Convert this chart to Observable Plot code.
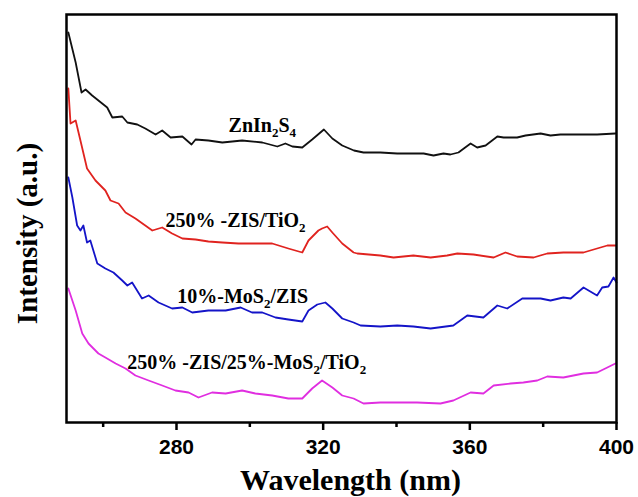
<!DOCTYPE html>
<html>
<head>
<meta charset="utf-8">
<script src="https://cdn.jsdelivr.net/npm/d3@7"></script>
<script src="https://cdn.jsdelivr.net/npm/@observablehq/plot@0.6"></script>
<style>
  html, body { margin: 0; padding: 0; background: #fff; }
  #chart svg { display: block; }
</style>
</head>
<body>
<div id="chart"></div>
<script>
// ---- data ----
const seriesNames = ["ZnIn2S4", "250%-ZIS/TiO2", "10%-MoS2/ZIS", "250%-ZIS/25%-MoS2/TiO2"];
const seriesColors = ["#111111", "#e0231f", "#1414c8", "#e02ee0"];

const znisWl = [250.5,252.5,254.1,255.2,257.0,261.1,262.5,265.2,266.6,269.3,271.5,274.3,276.1,278.4,281.6,284.1,285.2,288.7,292.5,297.9,303.4,307.5,309.7,311.6,314.3,317.0,320.2,322.5,325.2,328.4,331.0,335.6,340.2,344.6,347.4,350.1,352.8,354.7,356.9,360.2,362.0,364.3,367.5,369.2,372.9,375.2,379.3,382.0,384.7,389.3,394.7,399.7];
const znisI  = [390,360,330,333,327,315,305,306,300,298,294,288,292,285,286,278,283,282,280,282,280,276,279,276,275,283,293,284,277,272,270,270,269,269,269,267,269,268,270,279,275,277,286,285,285,287,289,287,288,288,288,289];

const zisTiWl = [250.5,251.1,252.5,253.8,255.6,257.9,260.6,262.0,264.2,266.1,268.8,273.4,276.1,278.8,281.6,285.2,288.7,292.5,296.9,301.5,306.1,310.5,314.3,316.0,318.7,319.7,321.1,322.5,325.2,328.3,329.3,335.6,339.2,344.6,349.3,353.8,356.6,361.0,366.5,369.7,372.9,377.4,381.1,385.5,391.0,394.7,397.5,399.7];
const zisTiI  = [334,299,302,282,254,242,232,222,219,210,204,192,195,189,184,183,181,180,179,179,179,174,170,182,192,194,196,190,179,170,169,167,165,167,165,167,169,168,165,170,166,165,169,170,170,174,177,177];

const mosZisWl = [250.5,251.6,252.9,253.8,254.6,255.6,256.5,258.4,260.6,262.8,265.2,266.6,267.9,270.6,272.4,275.1,278.8,281.6,284.3,288.7,293.4,297.5,300.6,303.4,307.0,310.5,314.3,316.0,318.4,320.6,322.5,325.2,328.3,330.2,335.6,340.2,344.6,349.3,355.5,359.3,363.7,367.5,370.2,374.3,379.3,382.0,385.5,387.5,391.0,394.7,396.1,397.8,399.2,400];
const mosZisI  = [245,225,197,192,197,180,182,159,154,150,142,137,140,124,127,120,114,115,110,112,112,115,110,110,105,103,101,112,118,120,114,104,100,97,96,97,96,94,97,107,105,117,114,124,124,122,125,124,135,127,135,136,145,140];

const ternWl = [250.5,252.5,254.3,256.0,258.7,260.6,263.4,266.1,268.8,272.4,276.1,279.7,283.3,286.0,289.7,293.4,297.9,301.5,306.1,310.5,314.3,317.0,319.7,322.5,325.2,328.3,331.0,335.6,340.2,345.6,352.0,355.5,360.2,363.7,366.5,371.1,374.6,378.4,381.1,385.5,391.0,394.7,397.5,399.7];
const ternI  = [134,112,89,79,69,65,59,54,47,42,37,32,30,25,30,29,32,29,27,24,24,34,42,35,27,24,19,20,20,20,19,22,30,29,37,39,40,42,46,45,49,50,55,59];

const majorTicks = [280, 320, 360, 400];
const minorTicks = [260, 300, 340, 380];

const labelTexts = ["ZnIn_2S_4", "250% -ZIS/TiO_2", "10%-MoS_2/ZIS", "250% -ZIS/25%-MoS_2/TiO_2"];
const labelWl = [294.2, 277.0, 280.2, 266.6];
const labelI  = [297, 202, 125.5, 59.5];

const xTitle = "Wavelength (nm)";
const yTitle = "Intensity (a.u.)";

// ---- build rows ----
const seriesData = [[znisWl, znisI], [zisTiWl, zisTiI], [mosZisWl, mosZisI], [ternWl, ternI]];
const rows = [];
seriesData.forEach(([w, v], k) => w.forEach((x, i) => rows.push({series: seriesNames[k], wl: x, v: v[i]})));
const labels = labelTexts.map((t, i) => ({t, x: labelWl[i], y: labelI[i]}));

const serif = "'Liberation Serif', 'Times New Roman', serif";

const chart = Plot.plot({
  width: 638, height: 497,
  marginLeft: 66, marginRight: 22, marginTop: 14, marginBottom: 75,
  style: {background: "white", fontFamily: "'Liberation Sans', Arial, sans-serif", fontSize: "21px", fontWeight: "bold", color: "black", overflow: "visible"},
  x: {domain: [250, 400]},
  y: {domain: [0, 408], axis: null},
  color: {domain: seriesNames, range: seriesColors},
  marks: [
    Plot.line(rows, {x: "wl", y: "v", z: "series", stroke: "series", strokeWidth: 1.8}),
    Plot.axisX({ticks: majorTicks, tickSize: 8, tickPadding: 9, strokeWidth: 2.5, label: null}),
    Plot.axisX({ticks: minorTicks, tickSize: 5, strokeWidth: 2.5, text: null, label: null}),
    Plot.frame({strokeWidth: 2.5, stroke: "black"}),
    Plot.text(labels, {x: "x", y: "y", text: "t", textAnchor: "start", fontFamily: serif, fontSize: 20, fontWeight: "bold", fill: "black"}),
    Plot.text([xTitle], {frameAnchor: "bottom", lineAnchor: "bottom", dx: 9, dy: 67, fontFamily: serif, fontSize: 30, fontWeight: "bold", fill: "black"}),
    Plot.text([yTitle], {frameAnchor: "left", rotate: -90, textAnchor: "middle", lineAnchor: "middle", dx: -39, dy: 15, fontFamily: serif, fontSize: 29, fontWeight: "bold", fill: "black"})
  ]
});
document.getElementById("chart").appendChild(chart);

// subscripts for chemical formulas
d3.select(chart).selectAll("text").each(function() {
  const el = this;
  const s = el.textContent;
  if (!s.includes("_")) return;
  const parts = s.split(/_(\d)/);
  el.textContent = "";
  let sub = false;
  parts.forEach((p, i) => {
    if (p === "") { return; }
    const isSub = i % 2 === 1;
    const ts = document.createElementNS("http://www.w3.org/2000/svg", "tspan");
    ts.textContent = p;
    if (isSub) { ts.setAttribute("font-size", "13"); ts.setAttribute("dy", "5"); sub = true; }
    else if (sub) { ts.setAttribute("dy", "-5"); sub = false; }
    el.appendChild(ts);
  });
});
</script>
</body>
</html>
